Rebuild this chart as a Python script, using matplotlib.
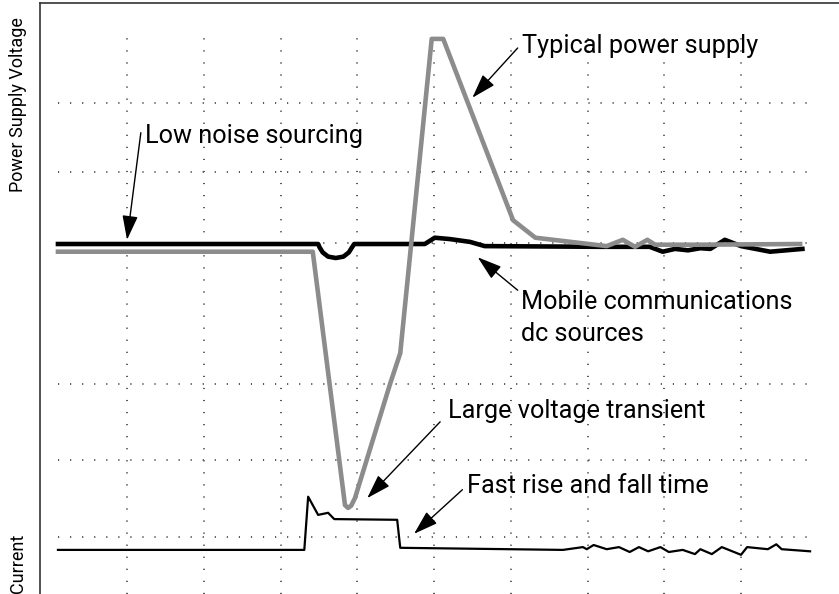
import matplotlib.pyplot as plt

# time in grid divisions, level in arbitrary units
grid_t = [1, 2, 3, 4, 5, 6, 7, 8, 9]
grid_v = [0.81, 1.91, 3.0, 5.01, 6.03, 7.01]

typical_t = [0.10, 3.42, 3.84, 3.88, 3.92, 3.97, 4.43, 4.56, 4.97, 5.12, 6.03, 6.32,
             7.25, 7.46, 7.62, 7.78, 7.88, 8.47, 9.77]
typical_v = [4.89, 4.89, 1.27, 1.23, 1.26, 1.37, 3.01, 3.44, 7.93, 7.93, 5.34, 5.09,
             4.97, 5.06, 4.96, 5.06, 4.99, 4.99, 5.00]

lownoise_t = [0.10, 3.49, 3.51, 3.55, 3.62, 3.72, 3.82, 3.89, 3.93, 3.96, 4.88, 5.01,
              5.21, 5.47, 5.66, 7.16, 7.81, 7.98, 8.14, 8.31, 8.47, 8.60, 8.79, 9.00,
              9.38, 9.80]
lownoise_v = [5.00, 5.00, 4.95, 4.88, 4.82, 4.80, 4.82, 4.88, 4.95, 5.00, 5.00, 5.09,
              5.07, 5.03, 4.97, 4.96, 4.96, 4.89, 4.93, 4.91, 4.94, 4.93, 5.06, 4.97,
              4.89, 4.93]

current_t = [0.10, 3.31, 3.36, 3.49, 3.62, 3.70, 4.52, 4.56, 6.68, 6.94, 6.99, 7.08,
             7.25, 7.41, 7.55, 7.67, 7.79, 7.95, 8.06, 8.24, 8.40, 8.47, 8.62, 8.75,
             9.00, 9.08, 9.35, 9.46, 9.53, 9.90]
current_v = [0.63, 0.63, 1.39, 1.13, 1.16, 1.07, 1.06, 0.66, 0.63, 0.67, 0.64, 0.70,
             0.64, 0.67, 0.60, 0.67, 0.61, 0.67, 0.60, 0.63, 0.57, 0.64, 0.57, 0.67,
             0.56, 0.67, 0.64, 0.71, 0.64, 0.61]

# label, text position (baseline of last line), arrow tail, arrow tip
notes = [
    ("Low noise sourcing", (1.23, 6.44), (1.18, 6.59), (1.00, 5.06)),
    ("Typical power supply", (6.15, 7.73), (6.09, 7.80), (5.50, 7.09)),
    ("Mobile communications\ndc sources", (6.13, 3.62), (6.09, 4.34), (5.57, 4.81)),
    ("Large voltage transient", (5.18, 2.51), (5.08, 2.46), (4.13, 1.37)),
    ("Fast rise and fall time", (5.43, 1.44), (5.37, 1.49), (4.74, 0.86)),
]

plt.rcParams['font.family'] = ['Roboto', 'DejaVu Sans']

fig = plt.figure(figsize=(8.39, 5.94), dpi=100)
ax = fig.add_axes([40 / 839, 0, 799 / 839, 591 / 594])
ax.set_xlim(-0.134, 10.277)
ax.set_ylim(0, 8.443)

dots = (0, (0.6, 5.6))
ax.vlines(grid_t, 0, 8.09, colors='#555555', linewidth=1.4, linestyles=[dots], zorder=1)
ax.hlines(grid_v, 0.1, 9.87, colors='#555555', linewidth=1.4, linestyles=[dots], zorder=1)

ax.plot(lownoise_t, lownoise_v, color='black', linewidth=3.3, zorder=3,
        solid_joinstyle='round')
ax.plot(typical_t, typical_v, color='#8c8c8c', linewidth=3.3, zorder=4,
        solid_joinstyle='round')
ax.plot(current_t, current_v, color='black', linewidth=1.6, zorder=3)

for label, pos, tail, tip in notes:
    ax.text(pos[0], pos[1], label, fontsize=18.2, va='baseline', ha='left',
            linespacing=1.4, zorder=5)
    ax.annotate('', xy=tip, xytext=tail,
                arrowprops=dict(arrowstyle='-|>,head_length=0.75,head_width=0.24',
                                color='black', lw=1.0, shrinkA=0, shrinkB=0,
                                mutation_scale=20), zorder=5)

fig.text(18 / 839, 1 - 105 / 594, "Power Supply Voltage", rotation=90,
         ha='center', va='center', fontsize=13)
fig.text(18 / 839, 1 - 563 / 594, "Current", rotation=90,
         ha='center', va='center', fontsize=13)

for side in ['right', 'bottom']:
    ax.spines[side].set_visible(False)
for side in ['top', 'left']:
    ax.spines[side].set_color('#333333')
    ax.spines[side].set_linewidth(1.2)
ax.set_xticks([])
ax.set_yticks([])

fig.savefig('out.png', dpi=100)
